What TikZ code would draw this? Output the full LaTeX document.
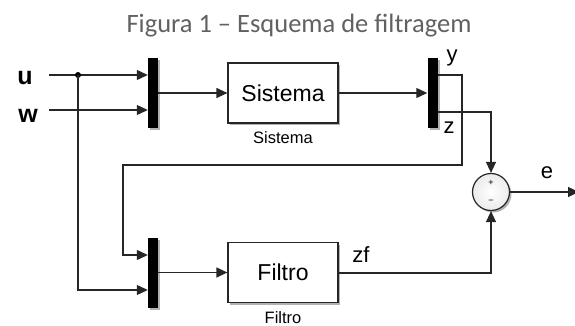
\documentclass[tikz,border=0pt]{standalone}
\usepackage{fontspec}
\setmainfont{Liberation Sans}
\newfontfamily\titlefont{Carlito}
\usetikzlibrary{arrows.meta,shadows}

\begin{document}
\begin{tikzpicture}[x=1pt,y=-1pt,
  wire/.style={line width=1.2pt,draw=black!85},
  sig/.style={wire,-{Triangle[length=11pt,width=10pt]}},
  shade/.style={drop shadow={shadow xshift=2pt,shadow yshift=-2pt,opacity=.3,fill=black}},
  muxbar/.style={rectangle,fill=black,draw=none,minimum width=10pt,minimum height=70pt,inner sep=0pt,shade},
  block/.style={rectangle,draw=black!85,line width=1.2pt,fill=white,minimum width=110pt,minimum height=60pt,inner sep=0pt,font=\fontsize{23}{26}\selectfont,shade},
  sumc/.style={circle,draw=black!85,line width=1.2pt,inner color=white,outer color=black!8,minimum size=37pt,inner sep=0pt,shade},
  caption/.style={font=\fontsize{16.5}{18}\selectfont,inner sep=0pt},
  lbl/.style={font=\fontsize{22}{24}\selectfont,inner sep=0pt,anchor=base},
  inlbl/.style={font=\bfseries\fontsize{25}{28}\selectfont,inner sep=0pt,anchor=base},
  sgn/.style={font=\fontsize{9}{10}\selectfont,inner sep=0pt}
]
\useasboundingbox (0,0) rectangle (575,326);

% title
\node[font=\titlefont\fontsize{26.5}{30}\selectfont,text=black!62,anchor=base,inner sep=0pt] (title) at (299,33) {Figura 1 – Esquema de filtragem};

% blocks
\node[muxbar] (mux1) at (153,93) {};
\node[muxbar] (mux3) at (432.5,93) {};
\node[muxbar] (mux2) at (153,272.5) {};
\node[block] (sys) at (283,93) {Sistema};
\node[block] (filt) at (283,272.5) {Filtro};
\node[sumc] (sum) at (491,192) {};
\node[sgn] (plus) at (491,183) {+};
\node[sgn] (minus) at (491,202) {−};

% block captions
\node[caption] (syscap) at (283,138) {Sistema};
\node[caption] (filtcap) at (283,318) {Filtro};

% signal labels
\node[inlbl] (lu) at (25,85) {u};
\node[inlbl] (lw) at (28,122) {w};
\node[lbl] (ly) at (452,62) {y};
\node[lbl] (lz) at (449,133) {z};
\node[lbl] (lzf) at (361,262) {zf};
\node[lbl] (le) at (547,178) {e};

% routing points
\coordinate (uin) at (49,75);
\coordinate (win) at (49,110);
\coordinate (jn) at (78,75);
\coordinate (jd) at (78,290);
\coordinate (yout) at (438,75);
\coordinate (zout) at (438,112);
\coordinate (yr) at (462,75);
\coordinate (yd) at (462,165);
\coordinate (yl) at (123,165);
\coordinate (yb) at (123,255);
\coordinate (zr) at (491,112);
\coordinate (zfr) at (491,273);
\coordinate (eout) at (579,192);

% connectors
\draw[sig] (uin) -- (mux1.west |- uin);
\draw[sig] (win) -- (mux1.west |- win);
\fill (jn) circle (3pt);
\draw[sig] (jn) -- (jd) -- (mux2.west |- jd);
\draw[sig] (mux1.east) -- (sys.west);
\draw[sig] (sys.east) -- (mux3.west);
\draw[sig] (yout) -- (yr) -- (yd) -- (yl) -- (yb) -- (mux2.west |- yb);
\draw[sig] (zout) -- (zr) -- (sum.north);
\draw[sig] (mux2.east) -- (filt.west);
\draw[sig] (filt.east |- zfr) -- (zfr) -- (sum.south);
\draw[sig] (sum.east) -- (eout);
\end{tikzpicture}
\end{document}
